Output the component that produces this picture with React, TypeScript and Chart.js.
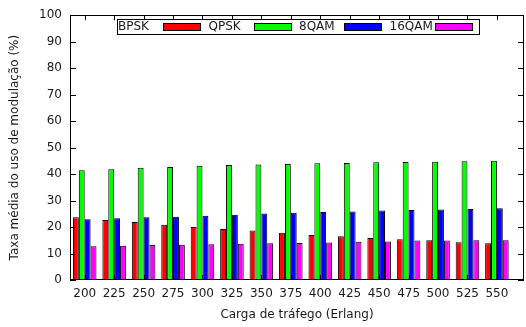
import React, { useEffect, useRef } from "react";
import { Chart, registerables } from "chart.js";

Chart.register(...registerables);

const categories = ["200", "225", "250", "275", "300", "325", "350", "375", "400", "425", "450", "475", "500", "525", "550"];
const seriesNames = ["BPSK", "QPSK", "8QAM", "16QAM"];
const bpsk = [23.7, 22.7, 21.9, 20.9, 20.0, 19.3, 18.7, 17.8, 17.0, 16.5, 15.9, 15.4, 15.0, 14.3, 13.9];
const qpsk = [41.4, 41.8, 42.4, 42.7, 43.1, 43.4, 43.6, 43.8, 44.1, 44.2, 44.5, 44.6, 44.7, 44.8, 45.0];
const qam8 = [22.9, 23.3, 23.7, 23.9, 24.3, 24.6, 25.1, 25.4, 25.7, 25.9, 26.2, 26.4, 26.6, 26.8, 27.1];
const qam16 = [12.7, 12.9, 13.2, 13.3, 13.5, 13.7, 13.9, 14.0, 14.2, 14.4, 14.5, 14.9, 14.9, 15.0, 15.0];
const seriesColors = ["#ff0000", "#00ff00", "#0000ff", "#ff00ff"];
const yTicks = [0, 10, 20, 30, 40, 50, 60, 70, 80, 90, 100];

const FONT = "'DejaVu Sans', sans-serif";
const TEXT = "#1a1a1a";

const framePlugin = {
  id: "gnuplotFrame",
  afterDatasetsDraw(chart: any) {
    const { ctx, chartArea } = chart;
    const { left, right, top, bottom } = chartArea;
    const xs = chart.scales.x;
    const ys = chart.scales.y;
    ctx.save();
    ctx.strokeStyle = "#000";
    ctx.lineWidth = 1;
    ctx.beginPath();
    ys.ticks.forEach((t: any) => {
      const py = Math.round(ys.getPixelForValue(t.value)) + 0.5;
      ctx.moveTo(left, py);
      ctx.lineTo(left + 6, py);
      ctx.moveTo(right, py);
      ctx.lineTo(right - 6, py);
    });
    xs.ticks.forEach((t: any) => {
      const px = Math.round(xs.getPixelForValue(t.value)) + 0.5;
      ctx.moveTo(px, bottom);
      ctx.lineTo(px, bottom - 5);
      ctx.moveTo(px, top);
      ctx.lineTo(px, top + 5);
    });
    ctx.stroke();
    ctx.strokeRect(Math.round(left) + 0.5, Math.round(top) + 0.5, Math.round(right - left) - 1, Math.round(bottom - top) - 1);

    // legend (gnuplot style: text then sample)
    const lx = Math.round(left) + 47;
    const ly = Math.round(top) + 4;
    const slot = 90.5;
    const n = chart.data.datasets.length;
    ctx.fillStyle = "#fff";
    ctx.fillRect(lx, ly, slot * n, 15);
    ctx.strokeStyle = "#000";
    ctx.strokeRect(lx + 0.5, ly + 0.5, Math.round(slot * n), 15);
    ctx.font = `12px ${FONT}`;
    ctx.textBaseline = "middle";
    ctx.textAlign = "left";
    chart.data.datasets.forEach((ds: any, i: number) => {
      const sx = lx + slot * i;
      ctx.fillStyle = TEXT;
      ctx.fillText(ds.label, sx + 1, ly + 8);
      const bx = Math.round(sx + 46);
      ctx.fillStyle = ds.backgroundColor;
      ctx.fillRect(bx, ly + 4, 37, 7);
      ctx.strokeStyle = "#000";
      ctx.strokeRect(bx + 0.5, ly + 4.5, 37, 7);
    });
    ctx.restore();
  },
};

export default function App() {
  const ref = useRef<HTMLCanvasElement | null>(null);
  useEffect(() => {
    if (!ref.current) return;
    const allSeries = [bpsk, qpsk, qam8, qam16];
    const chart = new Chart(ref.current, {
      type: "bar",
      data: {
        datasets: allSeries.map((vals, si) => ({
          label: seriesNames[si],
          data: vals.map((v, i) => ({ x: i, y: v })),
          backgroundColor: seriesColors[si],
          borderColor: "#000",
          borderWidth: 1,
          categoryPercentage: 0.8,
          barPercentage: 1.0,
        })),
      },
      options: {
        animation: false,
        responsive: true,
        maintainAspectRatio: false,
        layout: { padding: { left: 0, right: 2, top: 14, bottom: 0 } },
        plugins: { legend: { display: false }, tooltip: { enabled: false } },
        scales: {
          x: {
            type: "linear",
            offset: false,
            min: -0.5,
            max: 14.92,
            afterBuildTicks: (scale: any) => {
              scale.ticks = categories.map((_, i) => ({ value: i }));
            },
            afterFit: (scale: any) => {
              scale.height = 47;
            },
            grid: { display: false, drawTicks: false, offset: false },
            border: { display: false },
            ticks: {
              autoSkip: false,
              maxRotation: 0,
              padding: 7,
              color: TEXT,
              font: { family: FONT, size: 12 },
              callback: (v: any) => categories[v as number] ?? "",
            },
            title: {
              display: true,
              text: "Carga de tráfego (Erlang)",
              color: TEXT,
              font: { family: FONT, size: 12 },
              padding: { top: 0, bottom: 5 },
            },
          },
          y: {
            min: 0,
            max: 100,
            afterBuildTicks: (scale: any) => {
              scale.ticks = yTicks.map((v) => ({ value: v }));
            },
            afterFit: (scale: any) => {
              scale.width = 70;
            },
            grid: { display: false, drawTicks: false },
            border: { display: false },
            ticks: {
              padding: 8,
              color: TEXT,
              font: { family: FONT, size: 12 },
            },
            title: {
              display: true,
              text: "Taxa média do uso de modulação (%)",
              color: TEXT,
              font: { family: FONT, size: 12 },
              padding: { top: 8, bottom: 0 },
            },
          },
        },
      },
      plugins: [framePlugin],
    });
    return () => chart.destroy();
  }, []);
  return (
    <div style={{ position: "absolute", left: 0, top: 0, width: 526, height: 327, background: "#fff" }}>
      <canvas ref={ref} />
    </div>
  );
}
